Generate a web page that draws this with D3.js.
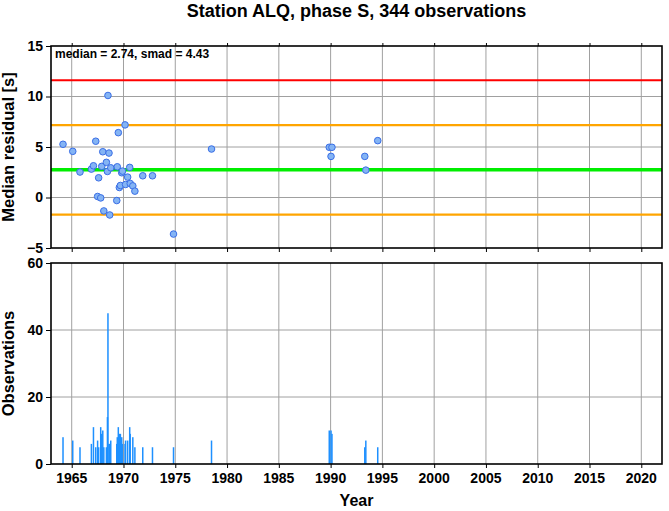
<!DOCTYPE html>
<html><head><meta charset="utf-8">
<script src="https://cdn.jsdelivr.net/npm/d3@7"></script>
<style>body{margin:0;background:#fff}svg{display:block}text{font-family:"Liberation Sans",Arial,sans-serif}</style>
</head><body>
<svg id="c" width="669" height="511"></svg>
<script>
// Data (year of bin, median residual, number of observations)
const years  = [1964.16,1965.1,1965.8,1966.9,1967.1,1967.32,1967.5,1967.6,1967.8,1967.9,1968.0,1968.1,1968.35,1968.45,1968.5,1968.6,1968.67,1968.77,1969.35,1969.4,1969.5,1969.6,1969.7,1969.83,1969.9,1970.15,1970.2,1970.4,1970.6,1970.65,1970.9,1971.1,1971.86,1972.8,1974.83,1978.5,1989.87,1990.04,1990.13,1993.3,1993.4,1994.55];
const medians= [5.27,4.57,2.52,2.81,3.14,5.57,0.1,1.95,-0.04,3.08,4.53,-1.33,3.48,2.58,10.1,4.4,-1.73,2.94,-0.3,3.04,6.42,0.99,1.19,2.45,2.61,7.19,1.29,2.02,2.98,1.39,1.15,0.63,2.15,2.15,-3.62,4.8,4.97,4.07,4.97,4.07,2.71,5.63];
const counts = [8,7,5,6,11,5,7,5,11,9,10,5,5,14,45,6,6,7,6,8,11,9,9,8,6,6,7,7,11,9,8,5,5,5,5,7,10,10,9,5,7,5];
const median = 2.74, smad = 4.43;
const xTicks = [1965,1970,1975,1980,1985,1990,1995,2000,2005,2010,2015,2020];
const yTicksTop = [-5,0,5,10,15];
const yTicksBot = [0,20,40,60];

const svg = d3.select("#c");
const L=51, R=662, T1=46, B1=248, T2=263, B2=464;
const x = d3.scaleLinear().domain([1963,2022]).range([L,R]);
const y1 = d3.scaleLinear().domain([-5,15]).range([B1,T1]);
const y2 = d3.scaleLinear().domain([0,60]).range([B2,T2]);

svg.append("text").attr("x",(L+R)/2).attr("y",17).attr("text-anchor","middle")
  .attr("font-size",18).attr("font-weight","bold").text("Station ALQ, phase S, 344 observations");

function panel(y, top, bot, yt) {
  const g = svg.append("g");
  g.selectAll(".vg").data(xTicks).join("line").attr("x1",d=>x(d)).attr("x2",d=>x(d))
    .attr("y1",top).attr("y2",bot).attr("stroke","#a0a0a0").attr("stroke-width",1);
  g.selectAll(".hg").data(yt.slice(1,-1)).join("line").attr("x1",L).attr("x2",R)
    .attr("y1",d=>y(d)).attr("y2",d=>y(d)).attr("stroke","#a0a0a0").attr("stroke-width",1);
  return g;
}
function frame(y, top, bot, yt, topTicks) {
  const g = svg.append("g");
  g.append("rect").attr("x",L).attr("y",top).attr("width",R-L).attr("height",bot-top)
    .attr("fill","none").attr("stroke","#000").attr("stroke-width",1.6);
  const ax = d3.axisLeft(y).tickValues(yt).tickSize(5).tickPadding(3);
  const a = svg.append("g").attr("transform",`translate(${L},0)`).call(ax);
  a.select(".domain").remove();
  a.selectAll("text").attr("font-size",14).attr("font-weight","bold").attr("fill","#000");
  const bt = d3.axisBottom(x).tickValues(xTicks).tickSize(4).tickFormat("");
  const b = svg.append("g").attr("transform",`translate(0,${bot})`).call(bt);
  b.select(".domain").remove();
  if (topTicks) {
    const t = svg.append("g").attr("transform",`translate(0,${top})`).call(d3.axisTop(x).tickValues(xTicks).tickSize(3).tickFormat(""));
    t.select(".domain").remove();
  }
  return b;
}

// top panel
panel(y1, T1, B1, yTicksTop);
const lines = [[median+2*smad,"#ff0000",2],[median+smad,"#ffa500",2.2],[median-smad,"#ffa500",2.2],[median,"#00ee00",3.5]];
svg.append("g").selectAll("line").data(lines).join("line").attr("x1",L).attr("x2",R)
  .attr("y1",d=>y1(d[0])).attr("y2",d=>y1(d[0])).attr("stroke",d=>d[1]).attr("stroke-width",d=>d[2]);
svg.append("g").selectAll("circle").data(years.map((d,i)=>[d,medians[i]])).join("circle")
  .attr("cx",d=>x(d[0])).attr("cy",d=>y1(d[1])).attr("r",3.3)
  .attr("fill","#84b4f4").attr("stroke","#3a6ee6").attr("stroke-width",1);
frame(y1, T1, B1, yTicksTop, true);
svg.append("text").attr("x",55).attr("y",58).attr("font-size",12).attr("font-weight","bold").text(`median = ${median}, smad = ${smad}`);

// bottom panel
panel(y2, T2, B2, yTicksBot);
svg.append("g").selectAll("rect").data(years.map((d,i)=>[d,counts[i]])).join("rect")
  .attr("x",d=>x(d[0])-0.75).attr("width",1.5).attr("y",d=>y2(d[1])).attr("height",d=>B2-y2(d[1]))
  .attr("fill","#1e90ff");
frame(y2, T2, B2, yTicksBot, false);
svg.append("g").selectAll("text").data(xTicks).join("text").attr("x",d=>x(d)).attr("y",B2+19)
  .attr("text-anchor","middle").attr("font-size",14).attr("font-weight","bold").text(d=>d);

svg.append("text").attr("x",(L+R)/2).attr("y",506).attr("text-anchor","middle")
  .attr("font-size",16).attr("font-weight","bold").text("Year");
svg.append("text").attr("transform",`translate(14,${(T1+B1)/2}) rotate(-90)`).attr("text-anchor","middle")
  .attr("font-size",16.5).attr("font-weight","bold").text("Median residual [s]");
svg.append("text").attr("transform",`translate(14,${(T2+B2)/2}) rotate(-90)`).attr("text-anchor","middle")
  .attr("font-size",16.5).attr("font-weight","bold").text("Observations");
</script>
</body></html>
